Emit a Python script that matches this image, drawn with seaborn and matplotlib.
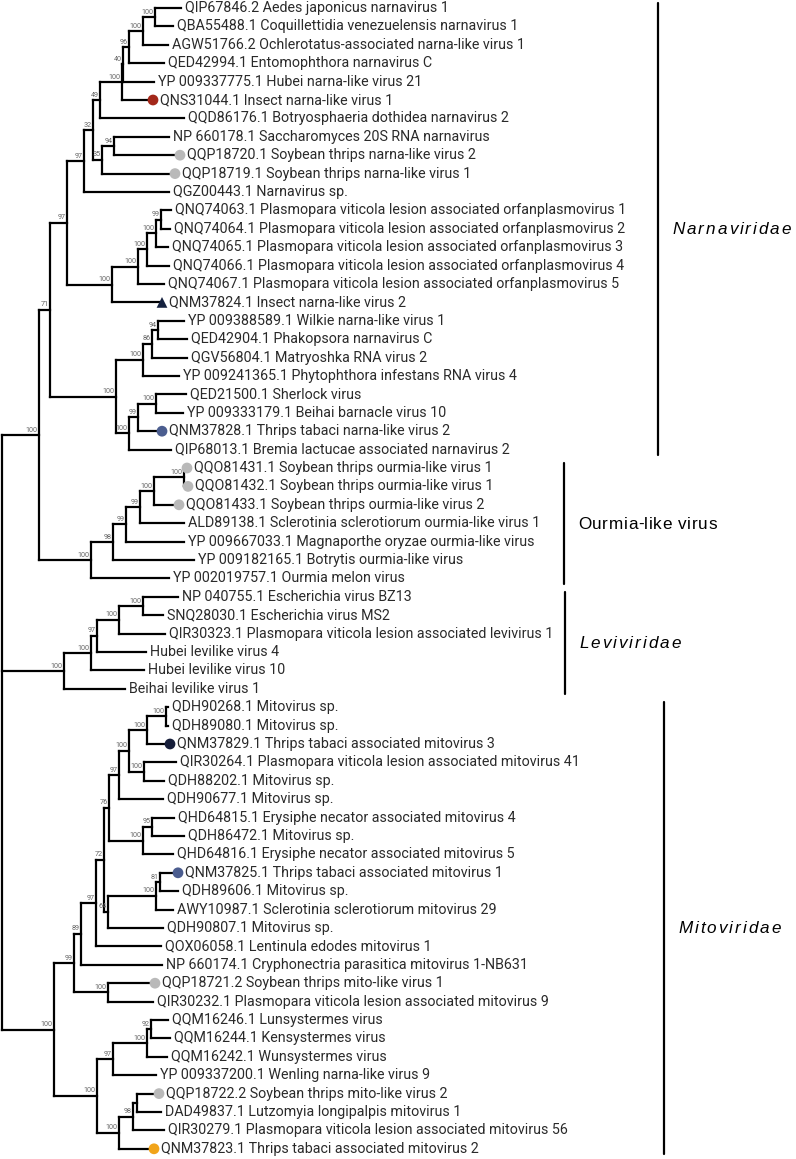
import matplotlib
matplotlib.use("Agg")
import matplotlib.pyplot as plt
from matplotlib.font_manager import FontProperties
import seaborn as sns
import pandas as pd

# tips, top to bottom
leaf_names = [
    "QIP67846.2 Aedes japonicus narnavirus 1",
    "QBA55488.1 Coquillettidia venezuelensis narnavirus 1",
    "AGW51766.2 Ochlerotatus-associated narna-like virus 1",
    "QED42994.1 Entomophthora narnavirus C",
    "YP 009337775.1 Hubei narna-like virus 21",
    "QNS31044.1 Insect narna-like virus 1",
    "QQD86176.1 Botryosphaeria dothidea narnavirus 2",
    "NP 660178.1 Saccharomyces 20S RNA narnavirus",
    "QQP18720.1 Soybean thrips narna-like virus 2",
    "QQP18719.1 Soybean thrips narna-like virus 1",
    "QGZ00443.1 Narnavirus sp.",
    "QNQ74063.1 Plasmopara viticola lesion associated orfanplasmovirus 1",
    "QNQ74064.1 Plasmopara viticola lesion associated orfanplasmovirus 2",
    "QNQ74065.1 Plasmopara viticola lesion associated orfanplasmovirus 3",
    "QNQ74066.1 Plasmopara viticola lesion associated orfanplasmovirus 4",
    "QNQ74067.1 Plasmopara viticola lesion associated orfanplasmovirus 5",
    "QNM37824.1 Insect narna-like virus 2",
    "YP 009388589.1 Wilkie narna-like virus 1",
    "QED42904.1 Phakopsora narnavirus C",
    "QGV56804.1 Matryoshka RNA virus 2",
    "YP 009241365.1 Phytophthora infestans RNA virus 4",
    "QED21500.1 Sherlock virus",
    "YP 009333179.1 Beihai barnacle virus 10",
    "QNM37828.1 Thrips tabaci narna-like virus 2",
    "QIP68013.1 Bremia lactucae associated narnavirus 2",
    "QQO81431.1 Soybean thrips ourmia-like virus 1",
    "QQO81432.1 Soybean thrips ourmia-like virus 1",
    "QQO81433.1 Soybean thrips ourmia-like virus 2",
    "ALD89138.1 Sclerotinia sclerotiorum ourmia-like virus 1",
    "YP 009667033.1 Magnaporthe oryzae ourmia-like virus",
    "YP 009182165.1 Botrytis ourmia-like virus",
    "YP 002019757.1 Ourmia melon virus",
    "NP 040755.1 Escherichia virus BZ13",
    "SNQ28030.1 Escherichia virus MS2",
    "QIR30323.1 Plasmopara viticola lesion associated levivirus 1",
    "Hubei levilike virus 4",
    "Hubei levilike virus 10",
    "Beihai levilike virus 1",
    "QDH90268.1 Mitovirus sp.",
    "QDH89080.1 Mitovirus sp.",
    "QNM37829.1 Thrips tabaci associated mitovirus 3",
    "QIR30264.1 Plasmopara viticola lesion associated mitovirus 41",
    "QDH88202.1 Mitovirus sp.",
    "QDH90677.1 Mitovirus sp.",
    "QHD64815.1 Erysiphe necator associated mitovirus 4",
    "QDH86472.1 Mitovirus sp.",
    "QHD64816.1 Erysiphe necator associated mitovirus 5",
    "QNM37825.1 Thrips tabaci associated mitovirus 1",
    "QDH89606.1 Mitovirus sp.",
    "AWY10987.1 Sclerotinia sclerotiorum mitovirus 29",
    "QDH90807.1 Mitovirus sp.",
    "QOX06058.1 Lentinula edodes mitovirus 1",
    "NP 660174.1 Cryphonectria parasitica mitovirus 1-NB631",
    "QQP18721.2 Soybean thrips mito-like virus 1",
    "QIR30232.1 Plasmopara viticola lesion associated mitovirus 9",
    "QQM16246.1 Lunsystermes virus",
    "QQM16244.1 Kensystermes virus",
    "QQM16242.1 Wunsystermes virus",
    "YP 009337200.1 Wenling narna-like virus 9",
    "QQP18722.2 Soybean thrips mito-like virus 2",
    "DAD49837.1 Lutzomyia longipalpis mitovirus 1",
    "QIR30279.1 Plasmopara viticola lesion associated mitovirus 56",
    "QNM37823.1 Thrips tabaci associated mitovirus 2",
]

# distance from the left edge (tree units)
leaf_depth = [181, 173, 168, 164, 154, 153, 184, 169, 180, 175, 169,
              171, 170, 168, 169, 164, 162, 184, 187, 187, 179, 186,
              183, 162, 171, 187, 188, 179, 184, 184, 194, 169, 178,
              163, 165, 146, 144, 125, 168, 168, 170, 176, 164, 163,
              174, 184, 173, 178, 178, 173, 163, 161, 162, 155, 153,
              168, 170, 167, 156, 159, 161, 164, 154]

# internal nodes (children are leaf indices or node ids)
node_ids = ["n1", "n2", "n3", "n4", "n5", "n6", "n7", "n8", "n9", "n10",
            "p1", "p2", "p3", "p4", "p5", "n11",
            "w1", "w2", "w3", "s1", "s2", "s3", "w4", "n12",
            "o1", "o2", "o3", "o4", "o5", "o6", "narna",
            "l1", "l2", "l3", "l4", "levi",
            "m1", "m2", "m3", "m4", "m5", "m6", "m7", "m8", "m9", "m10",
            "m11", "m12", "m13", "m14", "m15", "m16",
            "k1", "k2", "k3", "t1", "t2", "t3", "k4", "mito", "root"]
node_children = [(0, 1), ("n1", 2), ("n2", 3), ("n3", 4), ("n4", 5), ("n5", 6),
                 (7, 8), ("n7", 9), ("n6", "n8"), ("n9", 10),
                 (11, 12), ("p1", 13), ("p2", 14), ("p3", 15), ("p4", 16), ("n10", "p5"),
                 (17, 18), ("w1", 19), ("w2", 20), (21, 22), ("s1", 23), ("s2", 24),
                 ("w3", "s3"), ("n11", "w4"),
                 (25, 26), ("o1", 27), ("o2", 28), ("o3", 29), ("o4", 30), ("o5", 31),
                 ("n12", "o6"),
                 (32, 33), ("l1", 34), ("l2", 35), ("l3", 36), ("l4", 37),
                 (38, 39), ("m1", 40), (41, 42), ("m2", "m3"), ("m4", 43), (44, 45),
                 ("m6", 46), ("m5", "m7"), (47, 48), ("m9", 49), ("m10", 50),
                 ("m8", "m11"), ("m12", 51), ("m13", 52), (53, 54), ("m14", "m15"),
                 (55, 56), ("k1", 57), ("k2", 58), (59, 60), ("t1", 61), ("t2", 62),
                 ("k3", "t3"), ("m16", "k4"), ("narna", "levi", "mito")]
node_depth = [155, 143, 129, 123, 121.5, 100, 114, 102, 93, 84,
              161, 156, 147, 138, 112, 67,
              158, 152, 143, 156, 138, 129, 116, 50,
              184, 154, 140, 126, 113, 91, 39,
              143, 119, 97, 91, 64,
              166, 147, 144, 129, 119, 152, 143, 109, 160, 156,
              108, 104, 96, 81, 108, 74,
              151, 147, 113, 137, 133, 119, 97, 54, 2]
node_support = [100, 100, 96, 40, 100, 49, 94, 35, 32, 97,
                99, 100, 100, 100, 100, 97,
                94, 86, 100, 100, 99, 100, 100, 71,
                100, 100, 99, 99, 98, 100, 100,
                100, 100, 97, 100, 100,
                100, 100, 100, 100, 97, 95, 100, 76, 81, 100,
                64, 72, 97, 89, 100, 99,
                92, 100, 97, None, 98, 100, 100, 100, None]

# highlighted tips
mark_leaf = [5, 8, 9, 16, 23, 25, 26, 27, 40, 47, 53, 59, 62]
mark_kind = ["red", "grey", "grey", "triangle", "blue", "grey", "grey", "grey",
             "navy", "blue", "grey", "grey", "orange"]

# clade brackets
clade_names = ["Narnaviridae", "Ourmia-like virus", "Leviviridae", "Mitoviridae"]
clade_first = [0, 25, 32, 38]
clade_last = [24, 31, 37, 62]
clade_bar_x = [658, 564, 565, 664]
clade_italic = [True, False, True, True]

sns.set_theme(style="white")
plt.rcParams["font.family"] = ["Roboto", "DejaVu Sans"]

ROW = 18.4
TOP = 8
fig = plt.figure(figsize=(7.96, 11.59), dpi=100)
ax = fig.add_axes([0, 0, 1, 1])
ax.set_xlim(0, 796)
ax.set_ylim((1159 - TOP) / ROW, -TOP / ROW)
ax.axis("off")

pos = {}
for i, d in enumerate(leaf_depth):
    pos[i] = (d, float(i))
for nid, ch, d in zip(node_ids, node_children, node_depth):
    ys = [pos[c][1] for c in ch]
    pos[nid] = (d, (min(ys) + max(ys)) / 2)

lw = 1.6
for nid, ch, sup in zip(node_ids, node_children, node_support):
    x, y = pos[nid]
    ys = [pos[c][1] for c in ch]
    ax.plot([x, x], [min(ys), max(ys)], color="black", lw=lw,
            solid_capstyle="projecting")
    for c in ch:
        cx, cy = pos[c]
        ax.plot([x, cx], [cy, cy], color="black", lw=lw,
                solid_capstyle="projecting")
    if sup is not None:
        ax.text(x - 1.5, y - 0.08, str(sup), ha="right", va="bottom",
                fontsize=5.2, color="#666666")

for i, name in enumerate(leaf_names):
    off = 7 if i in mark_leaf else 4
    ax.text(leaf_depth[i] + off, i, name, ha="left", va="center",
            fontsize=10.3, color="#2a2a2a")

marks = pd.DataFrame({
    "x": [leaf_depth[i] for i in mark_leaf],
    "y": [float(i) for i in mark_leaf],
    "kind": mark_kind,
})
palette = {"red": "#a3281a", "grey": "#b9b9b9", "triangle": "#15213f",
           "blue": "#4b5d8f", "navy": "#161e3a", "orange": "#f1a41a"}
markers = {"red": "o", "grey": "o", "triangle": "^", "blue": "o",
           "navy": "o", "orange": "o"}
sns.scatterplot(data=marks, x="x", y="y", hue="kind", style="kind",
                palette=palette, markers=markers, s=60, linewidth=0,
                legend=False, ax=ax, zorder=5)

# clade labels are letter-spaced, so place them glyph by glyph
renderer = fig.canvas.get_renderer()
for name, a, b, bx, it in zip(clade_names, clade_first, clade_last,
                              clade_bar_x, clade_italic):
    ax.plot([bx, bx], [a - 0.28, b + 0.28], color="black", lw=1.6)
    fp = FontProperties(family=["Liberation Sans", "DejaVu Sans"],
                        style="italic" if it else "normal", size=12.3)
    gap = 2.0 if it else 0.6
    base = (a + b) / 2 + 5.5 / ROW
    x0 = bx + 14
    for k, ch in enumerate(name):
        w = renderer.get_text_width_height_descent(name[:k], fp, ismath=False)[0] if k else 0
        ax.text(x0 + w + k * gap, base, ch, ha="left", va="baseline",
                fontproperties=fp, color="black")

fig.savefig("out.png", dpi=100)
